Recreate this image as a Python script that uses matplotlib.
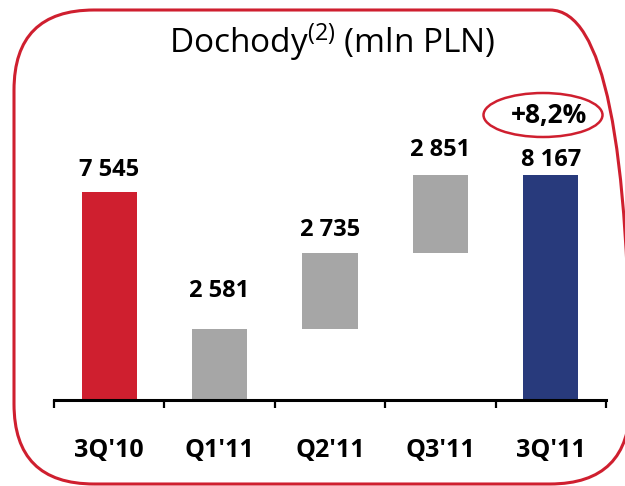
import matplotlib
matplotlib.use("Agg")
import matplotlib.pyplot as plt
from matplotlib.patches import FancyBboxPatch, Ellipse

# data (mln PLN)
categories = ["3Q'10", "Q1'11", "Q2'11", "Q3'11", "3Q'11"]
values = [7545, 2581, 2735, 2851, 8167]
labels = ["7 545", "2 581", "2 735", "2 851", "8 167"]
change_label = "+8,2%"

# waterfall: first and last are totals, middle bars float on the running sum
bottoms = [0, 0, values[1], values[1] + values[2], 0]
colors = ["#CF1F2F", "#A6A6A6", "#A6A6A6", "#A6A6A6", "#283A7C"]
label_gap = [16, 27, 17, 18, 11]  # points above bar top

plt.rcParams["font.family"] = ["Open Sans", "DejaVu Sans"]
plt.rcParams["mathtext.fontset"] = "custom"
plt.rcParams["mathtext.rm"] = "Open Sans"
plt.rcParams["mathtext.it"] = "Open Sans"
plt.rcParams["savefig.bbox"] = "standard"

fig = plt.figure(figsize=(6.25, 4.86), dpi=100)
ax = fig.add_axes([54 / 625, 86 / 486, 552 / 625, 340 / 486])

x = list(range(len(categories)))
ax.bar(x, values, bottom=bottoms, width=0.5, color=colors)

for i in x:
    top = bottoms[i] + values[i]
    ax.annotate(labels[i], (i, top), xytext=(0, label_gap[i]), textcoords="offset points",
                ha="center", va="center", fontsize=17, fontweight="bold")

ax.set_xlim(-0.5, 4.5)
ax.set_ylim(0, 340 / (208 / 7545))

for s in ["top", "right", "left"]:
    ax.spines[s].set_visible(False)
ax.spines["bottom"].set_linewidth(2.2)
ax.set_yticks([])
ax.set_xticks(x)
ax.set_xticklabels(categories, fontsize=18, fontweight="bold")
ax.tick_params(axis="x", which="major", length=0, pad=27)
ax.set_xticks([i - 0.5 for i in range(len(categories) + 1)], minor=True)
ax.tick_params(axis="x", which="minor", length=6, width=1.6, direction="out")

# title
fig.text(332 / 625, 1 - 42 / 486, "Dochody$^{(2)}$ (mln PLN)", ha="center", va="center",
         fontsize=24)

# red rounded frame - right side runs off the picture
frame = FancyBboxPatch((0.14, 0.02), 6.16, 4.74, boxstyle="round,pad=0,rounding_size=0.8",
                       transform=fig.dpi_scale_trans, fill=False, edgecolor="#CF1F2F",
                       linewidth=2.2)
fig.patches.append(frame)

# growth bubble above the last bar
ell = Ellipse((5.43, 4.86 - 1.15), 1.19, 0.44, transform=fig.dpi_scale_trans, fill=False,
              edgecolor="#CF1F2F", linewidth=1.8)
fig.patches.append(ell)
fig.text(549 / 625, 1 - 116 / 486, change_label, ha="center", va="center",
         fontsize=19, fontweight="bold")

fig.savefig("out.png", dpi=100)
